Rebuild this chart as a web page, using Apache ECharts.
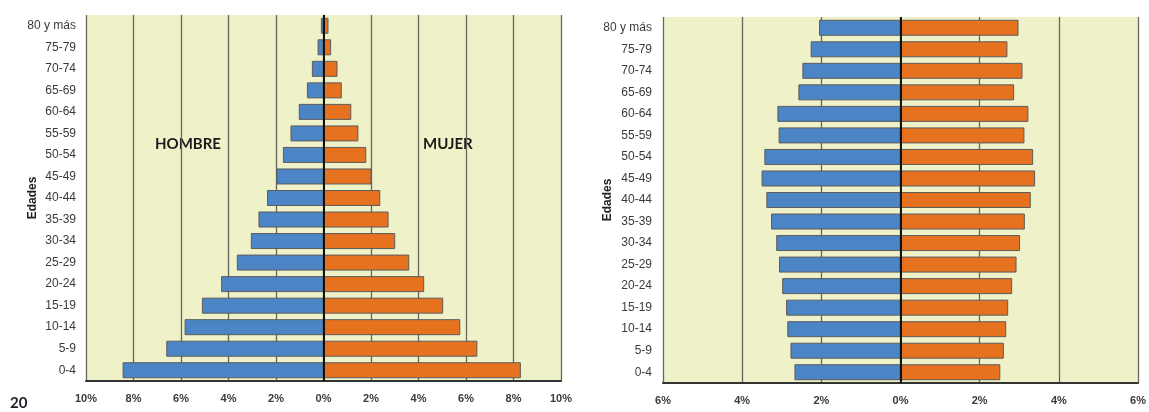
<!DOCTYPE html>
<html>
<head>
<meta charset="utf-8">
<script src="https://cdn.jsdelivr.net/npm/echarts@6/dist/echarts.min.js"></script>
<style>
  html, body { margin: 0; padding: 0; background: #ffffff; }
  #chart { width: 1149px; height: 412px; }
</style>
</head>
<body>
<div id="chart"></div>
<script>
// Age groups, bottom (youngest) to top (oldest)
const ageGroups = ['0-4', '5-9', '10-14', '15-19', '20-24', '25-29', '30-34', '35-39',
  '40-44', '45-49', '50-54', '55-59', '60-64', '65-69', '70-74', '75-79', '80 y más'];

// Pyramid 1 (percent of population)
const hombre1 = [8.46, 6.62, 5.85, 5.12, 4.31, 3.65, 3.06, 2.74, 2.38, 1.98, 1.71, 1.39, 1.04, 0.70, 0.49, 0.25, 0.11];
const mujer1  = [8.31, 6.48, 5.76, 5.04, 4.24, 3.61, 3.02, 2.74, 2.39, 2.02, 1.80, 1.47, 1.17, 0.77, 0.59, 0.32, 0.21];

// Pyramid 2 (percent of population)
const hombre2 = [2.68, 2.78, 2.86, 2.89, 2.99, 3.07, 3.14, 3.27, 3.39, 3.51, 3.44, 3.08, 3.11, 2.58, 2.48, 2.27, 2.06];
const mujer2  = [2.52, 2.61, 2.67, 2.72, 2.82, 2.93, 3.02, 3.14, 3.29, 3.40, 3.35, 3.13, 3.23, 2.87, 3.08, 2.70, 2.98];

// Axis ranges
const range1 = 10, range2 = 6, step = 2;

const BLUE = '#4b85c6';
const ORANGE = '#e6711f';
const PLOT_BG = '#eff2c9';
const GRID_LINE = '#66665f';
const TEXT = '#3a3a3a';

const chart = echarts.init(document.getElementById('chart'), null, { renderer: 'canvas' });

function xAxisFor(gridIndex, range) {
  return {
    type: 'value', gridIndex, min: -range, max: range, interval: step,
    axisLine: { show: true, lineStyle: { color: '#333333', width: 2 } },
    axisTick: { show: false },
    splitLine: { show: true, lineStyle: { color: GRID_LINE, width: 1.3 } },
    axisLabel: {
      margin: 12, color: TEXT, fontSize: 11, fontWeight: 'bold',
      fontFamily: 'Liberation Sans',
      formatter: v => Math.abs(v) + '%'
    }
  };
}

function yAxisFor(gridIndex, margin, nameGap) {
  return {
    type: 'category', gridIndex, data: ageGroups,
    axisLine: { show: true, lineStyle: { color: '#c9ccb4', width: 1 } },
    axisTick: { show: false },
    splitLine: { show: false },
    axisLabel: { margin, color: TEXT, fontSize: 12, fontFamily: 'Liberation Sans' },
    name: 'Edades', nameLocation: 'middle', nameGap, nameRotate: 90,
    nameMoveOverlap: false,
    nameTextStyle: { color: '#222', fontSize: 12, fontWeight: 'bold', fontFamily: 'Liberation Sans' }
  };
}

const barBorder = { borderColor: '#5c5c5c', borderWidth: 1 };
const zeroLine = {
  silent: true, symbol: 'none', label: { show: false },
  lineStyle: { color: '#111', width: 2, type: 'solid' },
  data: [{ xAxis: 0 }]
};

function barSeries(name, idx, values, color, sign, withZero) {
  const s = {
    name, type: 'bar', xAxisIndex: idx, yAxisIndex: idx, stack: 'p' + idx,
    barWidth: 16,
    data: values.map(v => sign * v),
    itemStyle: Object.assign({ color }, barBorder)
  };
  if (withZero) s.markLine = zeroLine;
  return s;
}

chart.setOption({
  animation: false,
  backgroundColor: '#ffffff',
  grid: [
    { left: 86, right: 588, top: 15, bottom: 31, show: true, backgroundColor: PLOT_BG, borderWidth: 0 },
    { left: 663, right: 10, top: 17, bottom: 29, show: true, backgroundColor: PLOT_BG, borderWidth: 0 }
  ],
  xAxis: [xAxisFor(0, range1), xAxisFor(1, range2)],
  yAxis: [yAxisFor(0, 10, 47), yAxisFor(1, 11, 49)],
  series: [
    barSeries('Hombre', 0, hombre1, BLUE, -1, false),
    barSeries('Mujer', 0, mujer1, ORANGE, 1, true),
    barSeries('Hombre', 1, hombre2, BLUE, -1, false),
    barSeries('Mujer', 1, mujer2, ORANGE, 1, true)
  ],
  graphic: [
    { type: 'text', left: 155, top: 137,
      style: { text: 'HOMBRE', fill: '#1a1a1a', font: 'bold 15px Lato' } },
    { type: 'text', left: 423, top: 137,
      style: { text: 'MUJER', fill: '#1a1a1a', font: 'bold 15px Lato' } },
    { type: 'text', left: 10, top: 396,
      style: { text: '20', fill: '#1e1e2a', font: 'bold 15px Lato' } }
  ]
});
</script>
</body>
</html>
